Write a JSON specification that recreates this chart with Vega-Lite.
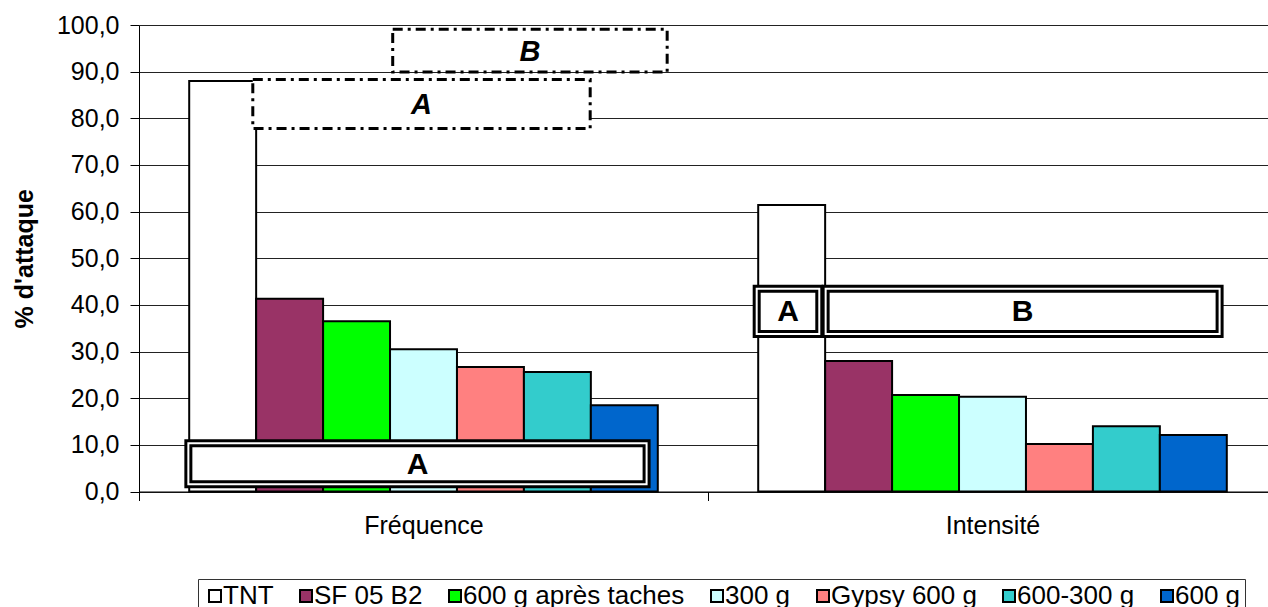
{
  "$schema": "https://vega.github.io/schema/vega-lite/v6.json",
  "width": 1138,
  "height": 466.5,
  "autosize": "none",
  "padding": {"left": 139, "top": 25, "right": 0, "bottom": 116},
  "background": "white",
  "config": {
    "font": "Liberation Sans",
    "view": {"stroke": null},
    "axis": {
      "labelFont": "Liberation Sans",
      "titleFont": "Liberation Sans",
      "labelFontSize": 25,
      "labelColor": "black",
      "titleColor": "black",
      "domainColor": "black",
      "tickColor": "black"
    },
    "axisY": {
      "gridColor": "#222222",
      "gridWidth": 1,
      "tickSize": 9,
      "labelPadding": 11,
      "titleFontSize": 25,
      "titleFontWeight": "bold",
      "titlePadding": 19
    },
    "legend": {
      "labelFont": "Liberation Sans",
      "labelFontSize": 26,
      "labelColor": "black",
      "labelLimit": 0
    }
  },
  "datasets": {
    "attaque": [
      {"mesure": "Fréquence", "traitement": "TNT", "valeur": 88.0},
      {"mesure": "Fréquence", "traitement": "SF 05 B2", "valeur": 41.3},
      {"mesure": "Fréquence", "traitement": "600 g après taches", "valeur": 36.5},
      {"mesure": "Fréquence", "traitement": "300 g", "valeur": 30.5},
      {"mesure": "Fréquence", "traitement": "Gypsy 600 g", "valeur": 26.7},
      {"mesure": "Fréquence", "traitement": "600-300 g", "valeur": 25.6},
      {"mesure": "Fréquence", "traitement": "600 g", "valeur": 18.5},
      {"mesure": "Intensité", "traitement": "TNT", "valeur": 61.4},
      {"mesure": "Intensité", "traitement": "SF 05 B2", "valeur": 28.0},
      {"mesure": "Intensité", "traitement": "600 g après taches", "valeur": 20.7},
      {"mesure": "Intensité", "traitement": "300 g", "valeur": 20.3},
      {"mesure": "Intensité", "traitement": "Gypsy 600 g", "valeur": 10.2},
      {"mesure": "Intensité", "traitement": "600-300 g", "valeur": 14.0},
      {"mesure": "Intensité", "traitement": "600 g", "valeur": 12.1}
    ],
    "groupes_signif": [
      {"mesure": "Fréquence", "groupe": "A", "debut": 0.70, "fin": 7.62, "haut": 10.9, "bas": 1.0},
      {"mesure": "Intensité", "groupe": "A", "debut": 9.19, "fin": 10.20, "haut": 44.0, "bas": 33.2},
      {"mesure": "Intensité", "groupe": "B", "debut": 10.22, "fin": 16.18, "haut": 44.0, "bas": 33.2}
    ],
    "groupes_tendance": [
      {"mesure": "Fréquence", "groupe": "A", "debut": 1.70, "fin": 6.74, "haut": 88.3, "bas": 77.8},
      {"mesure": "Fréquence", "groupe": "B", "debut": 3.79, "fin": 7.89, "haut": 99.1, "bas": 89.9}
    ]
  },
  "resolve": {"scale": {"x": "independent"}},
  "layer": [
    {
      "data": {"name": "attaque"},
      "mark": {"type": "bar", "stroke": "black", "strokeWidth": 2},
      "encoding": {
        "x": {
          "field": "mesure",
          "type": "nominal",
          "sort": ["Fréquence", "Intensité"],
          "scale": {"paddingInner": 0.17647, "paddingOuter": 0.088235},
          "axis": {
            "title": null,
            "labelAngle": 0,
            "bandPosition": 0,
            "tickExtra": false,
            "tickOffset": -50.2,
            "labelOffset": 50.2,
            "tickSize": 9,
            "labelPadding": 13,
            "grid": false
          }
        },
        "xOffset": {
          "field": "traitement",
          "type": "nominal",
          "sort": ["TNT", "SF 05 B2", "600 g après taches", "300 g", "Gypsy 600 g", "600-300 g", "600 g"],
          "scale": {"paddingInner": 0, "paddingOuter": 0}
        },
        "y": {
          "field": "valeur",
          "type": "quantitative",
          "title": "% d'attaque",
          "scale": {"domain": [0, 100], "nice": false},
          "axis": {
            "values": [0, 10, 20, 30, 40, 50, 60, 70, 80, 90, 100],
            "labelExpr": "replace(format(datum.value, '.1f'), '.', ',')",
            "grid": true
          }
        },
        "fill": {
          "field": "traitement",
          "type": "nominal",
          "scale": {
            "domain": ["TNT", "SF 05 B2", "600 g après taches", "300 g", "Gypsy 600 g", "600-300 g", "600 g"],
            "range": ["#FFFFFF", "#993366", "#00FF00", "#CCFFFF", "#FF8080", "#33CCCC", "#0066CC"]
          },
          "legend": {
            "title": null,
            "orient": "none",
            "legendX": 59,
            "legendY": 554,
            "direction": "horizontal",
            "columns": 7,
            "symbolType": "square",
            "symbolSize": 144,
            "symbolStrokeColor": "black",
            "symbolStrokeWidth": 2,
            "symbolOpacity": 1,
            "strokeColor": "#333333",
            "fillColor": "white",
            "padding": 4,
            "columnPadding": 19,
            "labelOffset": -5
          }
        }
      }
    },
    {
      "data": {"name": "groupes_signif"},
      "mark": {"type": "rect", "fill": "white", "stroke": "black", "strokeWidth": 3},
      "encoding": {
        "x": {"field": "debut", "type": "quantitative", "scale": {"domain": [0, 17], "nice": false, "zero": false}, "axis": null},
        "x2": {"field": "fin"},
        "y": {"field": "haut", "type": "quantitative", "title": "% d'attaque", "scale": {"domain": [0, 100], "nice": false}},
        "y2": {"field": "bas"}
      }
    },
    {
      "data": {"name": "groupes_signif"},
      "mark": {"type": "rect", "fill": "white", "stroke": "black", "strokeWidth": 3, "xOffset": 5, "x2Offset": -5, "yOffset": 5, "y2Offset": -5},
      "encoding": {
        "x": {"field": "debut", "type": "quantitative", "scale": {"domain": [0, 17], "nice": false, "zero": false}, "axis": null},
        "x2": {"field": "fin"},
        "y": {"field": "haut", "type": "quantitative", "title": "% d'attaque", "scale": {"domain": [0, 100], "nice": false}},
        "y2": {"field": "bas"}
      }
    },
    {
      "data": {"name": "groupes_signif"},
      "transform": [
        {"calculate": "(datum.debut + datum.fin) / 2", "as": "centre_x"},
        {"calculate": "(datum.haut + datum.bas) / 2", "as": "centre_y"}
      ],
      "mark": {"type": "text", "font": "Liberation Sans", "fontSize": 30, "fontWeight": "bold", "color": "black", "baseline": "middle", "align": "center", "dy": 1},
      "encoding": {
        "x": {"field": "centre_x", "type": "quantitative", "scale": {"domain": [0, 17], "nice": false, "zero": false}, "axis": null},
        "y": {"field": "centre_y", "type": "quantitative", "title": "% d'attaque", "scale": {"domain": [0, 100], "nice": false}},
        "text": {"field": "groupe"}
      }
    },
    {
      "data": {"name": "groupes_tendance"},
      "mark": {"type": "rect", "fill": "white", "stroke": "black", "strokeWidth": 3, "strokeDash": [10, 5, 3, 5]},
      "encoding": {
        "x": {"field": "debut", "type": "quantitative", "scale": {"domain": [0, 17], "nice": false, "zero": false}, "axis": null},
        "x2": {"field": "fin"},
        "y": {"field": "haut", "type": "quantitative", "title": "% d'attaque", "scale": {"domain": [0, 100], "nice": false}},
        "y2": {"field": "bas"}
      }
    },
    {
      "data": {"name": "groupes_tendance"},
      "transform": [
        {"calculate": "(datum.debut + datum.fin) / 2", "as": "centre_x"},
        {"calculate": "(datum.haut + datum.bas) / 2", "as": "centre_y"}
      ],
      "mark": {"type": "text", "font": "Liberation Sans", "fontSize": 29, "fontWeight": "bold", "fontStyle": "italic", "color": "black", "baseline": "middle", "align": "center", "dy": 1},
      "encoding": {
        "x": {"field": "centre_x", "type": "quantitative", "scale": {"domain": [0, 17], "nice": false, "zero": false}, "axis": null},
        "y": {"field": "centre_y", "type": "quantitative", "title": "% d'attaque", "scale": {"domain": [0, 100], "nice": false}},
        "text": {"field": "groupe"}
      }
    }
  ]
}
